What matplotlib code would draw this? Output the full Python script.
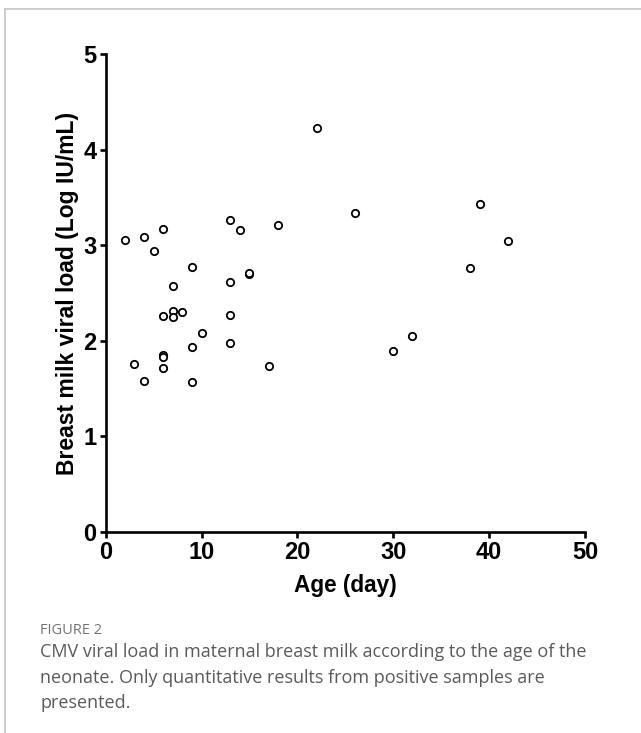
import numpy as np
import matplotlib
matplotlib.use("Agg")
import matplotlib.pyplot as plt
from matplotlib.lines import Line2D

# ---- data ----
age_day = [13, 18, 14, 6, 2, 4, 5, 9, 15, 15, 13, 7, 7, 8, 6, 7, 13, 10, 9, 13,
           6, 6, 3, 6, 17, 4, 9, 22, 26, 39, 42, 38, 32, 30]
viral_load = [3.27, 3.21, 3.16, 3.17, 3.06, 3.09, 2.94, 2.77, 2.70, 2.71, 2.62, 2.57,
              2.31, 2.30, 2.26, 2.25, 2.27, 2.08, 1.94, 1.98, 1.85, 1.83, 1.76, 1.72,
              1.74, 1.58, 1.57, 4.23, 3.34, 3.43, 3.05, 2.76, 2.05, 1.89]

x_ticks = [0, 10, 20, 30, 40, 50]
y_ticks = [0, 1, 2, 3, 4, 5]

caption_head = "FIGURE 2"
caption_body = ("CMV viral load in maternal breast milk according to the age of the\n"
                "neonate. Only quantitative results from positive samples are\n"
                "presented.")

W, H = 641, 733
fig = plt.figure(figsize=(W / 100, H / 100), dpi=100)

# panel frame (thin grey border at top and left)
fig.add_artist(Line2D([5 / W, 1], [1 - 9 / H, 1 - 9 / H], color="#c4c4c4", lw=1.2))
fig.add_artist(Line2D([5 / W, 5 / W], [0, 1 - 9 / H], color="#c4c4c4", lw=1.2))

ax = fig.add_axes([105.7 / W, 1 - 532 / H, (585 - 105.7) / W, (532 - 54.3) / H])
ax.scatter(age_day, viral_load, s=28, facecolors="white", edgecolors="black",
           linewidths=1.3, zorder=3, clip_on=False)

ax.set_xlim(0, 50)
ax.set_ylim(0, 5)
ax.set_xticks(x_ticks)
ax.set_yticks(y_ticks)
for side in ["top", "right"]:
    ax.spines[side].set_visible(False)
for side in ["left", "bottom"]:
    ax.spines[side].set_linewidth(1.9)
    ax.spines[side].set_capstyle("projecting")
ax.tick_params(width=1.9, length=4, labelsize=17, pad=2.5)
for lab in ax.get_xticklabels() + ax.get_yticklabels():
    lab.set_fontweight("bold")
    lab.set_family("Liberation Sans")

ax.set_xlabel("Age (day)", fontsize=16.3, fontweight="bold", family="Liberation Sans", labelpad=7)
ax.set_ylabel("Breast milk viral load (Log IU/mL)", fontsize=16.5, fontweight="bold",
              family="Liberation Sans", labelpad=3)

fig.text(40 / W, 1 - 630 / H, caption_head, fontsize=10.5, color="#747474",
         family="Open Sans", va="center")
fig.text(40 / W, 1 - 643 / H, caption_body, fontsize=13, color="#5a5a5a",
         family="Open Sans", va="top", linespacing=1.55)

fig.savefig("out.png", dpi=100)
